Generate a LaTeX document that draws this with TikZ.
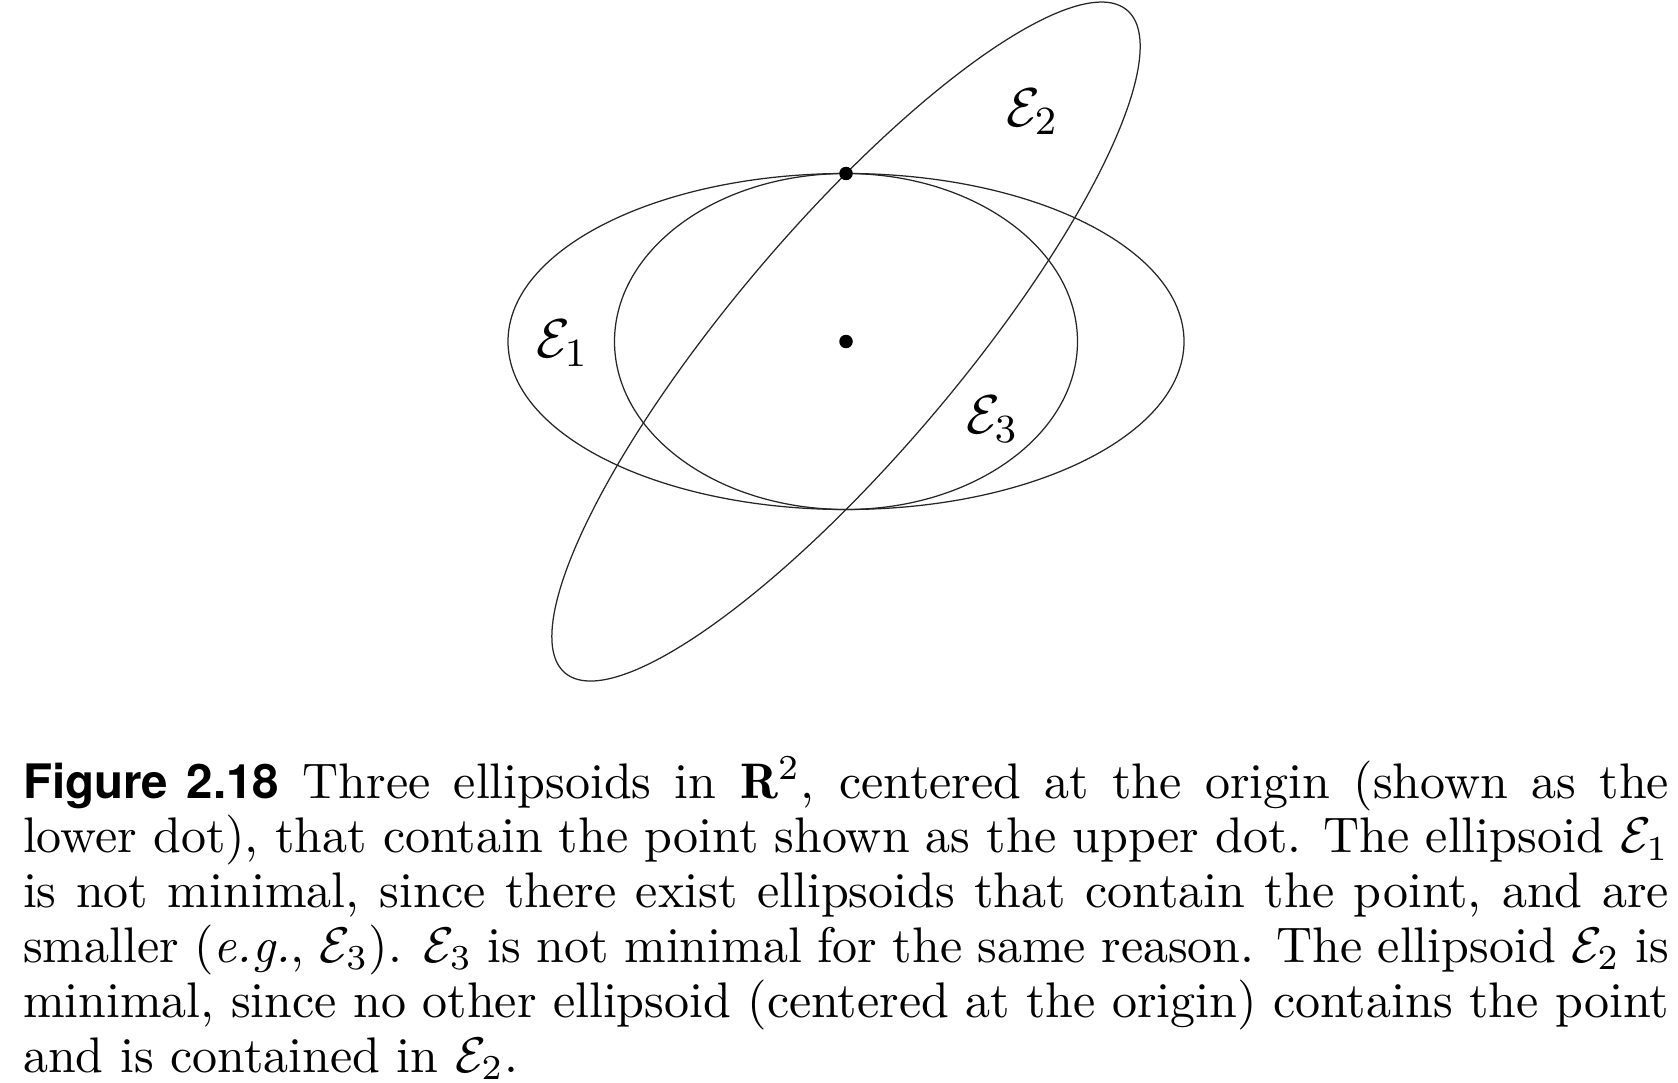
\documentclass[tikz,border=0pt]{standalone}
\usepackage{fontspec}
\newfontfamily\helv{TeX Gyre Heros}
\tikzset{
  ell/.style={draw=black!85, line width=0.25pt},
  dot/.style={circle, fill=black, inner sep=0pt, minimum size=2.7pt},
  lab/.style={inner sep=0pt, font=\fontsize{11}{13}\selectfont},
}
\begin{document}
\begin{tikzpicture}[x=0.2pt,y=0.2pt]
\useasboundingbox (0,0) rectangle (1678,1082);
\coordinate (C) at (846,740.5);
% E1
\draw[ell] (C) ellipse [x radius=338, y radius=168];
% E3
\draw[ell] (C) ellipse [x radius=231.5, y radius=168];
% E2
\draw[ell, rotate around={49.7:(C)}] (C) ellipse [x radius=434.5, y radius=113.7];
% dots
\node[dot] (origin) at (C) {};
\node[dot] (pt) at (846,908.5) {};
% labels
\node[lab, anchor=base west] (l1) at (535,724) {$\mathcal{E}_1$};
\node[lab, anchor=base west] (l2) at (1005,955.3) {$\mathcal{E}_2$};
\node[lab, anchor=base west] (l3) at (965,648) {$\mathcal{E}_3$};
% caption
\node[anchor=base west, inner sep=0pt] (cap) at (22,284) {\parbox[t]{329.2pt}{\fontsize{10}{10.96}\selectfont
{\helv\bfseries\fontsize{9.5}{10.96}\selectfont Figure 2.18} Three ellipsoids in $\mathbf{R}^2$, centered at the origin (shown as the\linebreak
lower dot), that contain the point shown as the upper dot. The ellipsoid $\mathcal{E}_1$\linebreak
is not minimal, since there exist ellipsoids that contain the point, and are\linebreak
smaller (\emph{e.g.}, $\mathcal{E}_3$). $\mathcal{E}_3$ is not minimal for the same reason. The ellipsoid $\mathcal{E}_2$ is\linebreak
minimal, since no other ellipsoid (centered at the origin) contains the point\linebreak
and is contained in $\mathcal{E}_2$.\par}};
\end{tikzpicture}
\end{document}
